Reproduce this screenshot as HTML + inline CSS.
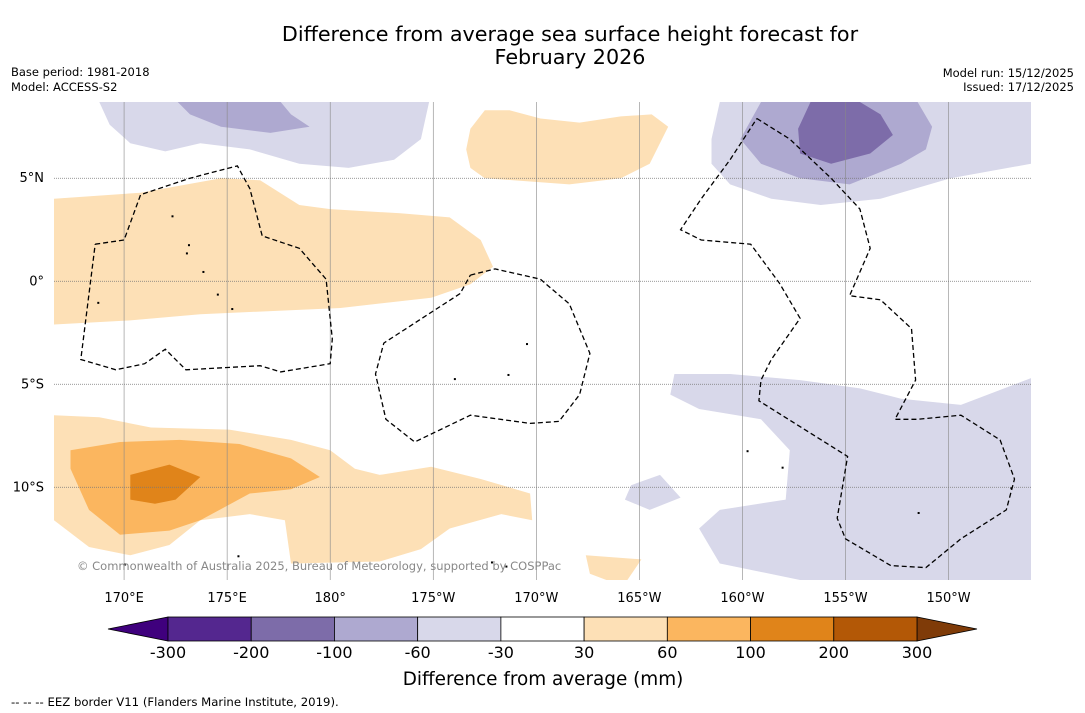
<!DOCTYPE html>
<html><head><meta charset="utf-8">
<style>
body{margin:0;background:#fff;font-family:"DejaVu Sans",sans-serif;}
#wrap{position:relative;width:1085px;height:713px;overflow:hidden;background:#fff;}
text{font-family:"DejaVu Sans","Liberation Sans",sans-serif;}
</style></head>
<body>
<div id="wrap">
<svg id="svg" width="1085" height="713" xmlns="http://www.w3.org/2000/svg">
<text x="570" y="41" text-anchor="middle" font-size="20.7">Difference from average sea surface height forecast for</text>
<text x="570" y="64" text-anchor="middle" font-size="20.7">February 2026</text>
<text x="11" y="76" font-size="11.5">Base period: 1981-2018</text>
<text x="11" y="91" font-size="11.5">Model: ACCESS-S2</text>
<text x="1074" y="77" text-anchor="end" font-size="11.5">Model run: 15/12/2025</text>
<text x="1074" y="91" text-anchor="end" font-size="11.5">Issued: 17/12/2025</text>
<defs><clipPath id="mapclip"><rect x="54" y="102" width="977" height="478"/></clipPath></defs>
<g id="map" clip-path="url(#mapclip)"></g>
<g id="grid"></g>
<g id="eez" clip-path="url(#mapclip)"></g>
<text x="77" y="570" font-size="11.5" fill="#888">© Commonwealth of Australia 2025, Bureau of Meteorology, supported by COSPPac</text>
<g id="axes"></g>
<g id="cbar"></g>
<text x="543" y="685" text-anchor="middle" font-size="18.4">Difference from average (mm)</text>
<text x="11" y="706" font-size="11.7">--  --  -- EEZ border V11 (Flanders Marine Institute, 2019).</text>
</svg>
</div>
<script>
const lonTicks=[170,175,180,185,190,195,200,205,210];
const lonTickLabels=["170°E","175°E","180°","175°W","170°W","165°W","160°W","155°W","150°W"];
const latTicks=[5,0,-5,-10];
const latTickLabels=["5°N","0°","5°S","10°S"];
const cbarBounds=[-300,-200,-100,-60,-30,30,60,100,200,300];
const cbarColors=["#54278f","#7d6ca9","#aea9d0","#d8d8ea","#ffffff","#fde0b6","#fbb65f","#e0841a","#b35806"];
const cbarLabels=["-300","-200","-100","-60","-30","30","60","100","200","300"];
const fillLevels=[5,5,3,2,3,2,1,3,3,5,6,7,5];
const fillShapes=[
[[160,4.0],[166.6,4.0],[170.8,4.3],[174.7,5.0],[176.6,4.9],[178.5,3.7],[180.0,3.5],[183.4,3.3],[185.8,3.1],[187.3,2.0],[187.9,0.7],[186.8,-0.15],[184.9,-0.8],[180.5,-1.3],[173.7,-1.6],[170.3,-1.9],[166.6,-2.1],[160,-2.1]],
[[187.5,8.3],[186.8,7.4],[186.6,6.4],[186.8,5.5],[187.5,5.0],[191.6,4.7],[194.1,5.0],[195.5,5.7],[196.4,7.5],[195.6,8.1],[194.1,8.0],[192.1,7.7],[190.2,7.9],[188.7,8.3]],
[[168.8,9.5],[168.8,8.7],[169.3,7.6],[170.3,6.7],[172.0,6.3],[173.7,6.7],[176.1,6.4],[178.5,5.7],[180.9,5.5],[183.1,5.9],[184.4,6.9],[184.8,8.7],[184.8,9.5]],
[[172.6,9.5],[172.6,8.7],[173.2,8.1],[174.7,7.5],[177.1,7.2],[179.0,7.5],[178.1,8.1],[177.6,8.7],[177.6,9.5]],
[[198.9,9.5],[198.9,8.7],[198.5,6.9],[198.5,5.7],[199.4,4.7],[201.4,4.0],[203.8,3.7],[206.7,4.0],[210.1,5.0],[214.0,5.7],[216,5.7],[216,9.5]],
[[200.9,9.5],[200.9,8.7],[199.9,6.9],[200.9,5.7],[202.8,5.0],[205.2,4.7],[207.7,5.7],[208.9,6.4],[209.2,7.5],[208.5,8.7],[208.5,9.5]],
[[203.3,9.5],[203.3,8.7],[202.7,7.4],[202.8,6.2],[204.3,5.7],[206.2,6.2],[207.3,7.1],[206.7,8.1],[205.7,8.7],[205.7,9.5]],
[[196.7,-4.5],[196.5,-5.5],[197.9,-6.2],[200.9,-6.7],[202.3,-8.2],[202.1,-10.6],[198.9,-11.1],[197.9,-12.0],[198.9,-13.7],[202.8,-14.5],[202.8,-16],[216,-16],[216,-4.6],[214.0,-4.7],[210.6,-6.0],[207.7,-5.7],[205.7,-5.2],[202.8,-4.8],[199.4,-4.5]],
[[194.6,-9.9],[194.3,-10.6],[195.5,-11.1],[197.0,-10.5],[196.0,-9.4]],
[[160,-6.5],[166.6,-6.5],[168.8,-6.6],[171.3,-7.1],[175.1,-7.2],[178.1,-7.7],[180.0,-8.2],[181.2,-9.1],[182.4,-9.4],[184.9,-9.0],[187.3,-9.6],[189.7,-10.3],[189.8,-11.6],[188.3,-11.3],[185.8,-12.0],[184.4,-13.0],[182.4,-13.6],[178.1,-13.7],[177.8,-11.6],[176.1,-11.3],[173.7,-11.6],[172.2,-12.8],[170.3,-13.3],[168.3,-12.9],[166.6,-11.6],[160,-11.6]],
[[167.4,-8.2],[169.8,-7.8],[172.7,-7.7],[175.6,-7.9],[178.1,-8.6],[179.5,-9.5],[178.1,-10.1],[176.1,-10.3],[173.7,-11.6],[172.2,-12.1],[169.8,-12.3],[168.3,-11.1],[167.4,-9.1]],
[[170.3,-9.4],[172.2,-8.9],[173.7,-9.5],[172.5,-10.6],[171.5,-10.8],[170.3,-10.6]],
[[192.4,-13.3],[192.6,-14.2],[193.4,-14.5],[195.8,-14.5],[195.8,-16],[193.4,-16],[195.1,-13.5]]
];
const eezShapes=[
[[168.6,1.8],[170.0,2.0],[170.8,4.2],[173.2,5.0],[175.5,5.6],[176.1,4.5],[176.7,2.2],[178.5,1.6],[179.8,0.1],[180.1,-2.8],[180.0,-4.0],[177.6,-4.4],[176.6,-4.1],[173.0,-4.3],[172.0,-3.3],[171.0,-4.0],[169.6,-4.3],[167.9,-3.8],[168.6,1.8]],
[[186.8,0.3],[188.0,0.6],[190.2,0.1],[191.6,-1.1],[192.6,-3.5],[192.1,-5.5],[191.1,-6.8],[189.7,-6.9],[186.8,-6.5],[184.1,-7.8],[182.7,-6.7],[182.2,-4.5],[182.6,-3.0],[186.3,-0.6],[186.8,0.3]],
[[200.7,7.9],[202.3,6.9],[204.3,5.0],[205.7,3.5],[206.2,1.6],[205.2,-0.7],[206.7,-0.9],[208.2,-2.3],[208.4,-4.8],[207.4,-6.7],[208.5,-6.7],[210.6,-6.5],[212.5,-7.7],[213.2,-9.6],[212.8,-11.1],[210.6,-12.5],[208.9,-13.9],[207.2,-13.8],[205.0,-12.5],[204.6,-11.5],[205.1,-8.5],[200.8,-5.8],[200.9,-4.8],[201.4,-3.8],[202.8,-1.8],[201.8,-0.1],[200.4,1.8],[198.0,2.0],[197.0,2.5],[198.0,4.0],[199.4,5.9],[200.7,7.9]]
];
const islands=[[172.3,3.2],[173.1,1.8],[173.0,1.4],[173.8,0.5],[174.5,-0.6],[175.2,-1.3],[186.0,-4.7],[189.5,-3.0],[188.6,-4.5],[175.5,-13.3],[188.5,-13.8],[187.8,-13.6],[201.9,-9.0],[200.2,-8.2],[208.5,-11.2],[170.0,-13.7],[168.7,-1.0],[213.0,-10.0]];

const NS="http://www.w3.org/2000/svg";
const X0=54,X1=1031,Y0=102,Y1=580;
const lonMin=166.6,lonMax=214.0,latMax=8.7,latMin=-14.5;
function xS(lon){return X0+(lon-lonMin)/(lonMax-lonMin)*(X1-X0);}
function yS(lat){return Y0+(latMax-lat)/(latMax-latMin)*(Y1-Y0);}
function mk(t,a,p){const e=document.createElementNS(NS,t);for(const k in a)e.setAttribute(k,a[k]);p.appendChild(e);return e;}
function pathD(pts,close){return pts.map((p,i)=>(i?"L":"M")+xS(p[0]).toFixed(1)+","+yS(p[1]).toFixed(1)).join("")+(close?"Z":"");}

const map=document.getElementById("map");
fillShapes.forEach((s,i)=>{
  const e=mk("path",{d:pathD(s,true),fill:cbarColors[fillLevels[i]],stroke:"none"},map);
  
  
});
islands.forEach((p,i)=>{
  const e=mk("rect",{x:xS(p[0]),y:yS(p[1]),width:2,height:2,fill:"#000"},map);
  
  
});
const grid=document.getElementById("grid");
lonTicks.forEach(l=>{
  const e=mk("line",{x1:xS(l),x2:xS(l),y1:Y0,y2:Y1,stroke:"#888","stroke-width":0.6},grid);
  
  
});
latTicks.forEach(l=>{
  const e=mk("line",{x1:X0,x2:X1,y1:yS(l),y2:yS(l),stroke:"#777","stroke-width":0.8,"stroke-dasharray":"1,1"},grid);
  
  
});
const eez=document.getElementById("eez");
eezShapes.forEach(s=>{
  const e=mk("path",{d:pathD(s,false),fill:"none",stroke:"#000","stroke-width":1.3,"stroke-dasharray":"5,3"},eez);
  
  
});
const axes=document.getElementById("axes");
lonTicks.forEach((l,i)=>{
  const e=mk("text",{x:xS(l),y:602,"text-anchor":"middle","font-size":13},axes);
  e.textContent=lonTickLabels[i];
  
  
});
latTicks.forEach((l,i)=>{
  const e=mk("text",{x:44,y:yS(l)+4,"text-anchor":"end","font-size":13},axes);
  e.textContent=latTickLabels[i];
  
  
});
const cb=document.getElementById("cbar");
const CB0=168,CB1=917,CBY=617,CBH=24;
const seg=(CB1-CB0)/(cbarBounds.length-1);
let t1=mk("polygon",{points:`${CB0},${CBY} ${CB0},${CBY+CBH} 108,${CBY+CBH/2}`,fill:"#3f007d",stroke:"#000","stroke-width":0.8},cb);


let t2=mk("polygon",{points:`${CB1},${CBY} ${CB1},${CBY+CBH} 977,${CBY+CBH/2}`,fill:"#7f3b08",stroke:"#000","stroke-width":0.8},cb);


cbarColors.forEach((c,i)=>{
  const e=mk("rect",{x:CB0+i*seg,y:CBY,width:seg,height:CBH,fill:c,stroke:"#000","stroke-width":0.8},cb);
  
  
});
cbarLabels.forEach((s,i)=>{
  const e=mk("text",{x:CB0+i*seg,y:658,"text-anchor":"middle","font-size":16},cb);
  e.textContent=s;
  
  
});
</script>
</body></html>
